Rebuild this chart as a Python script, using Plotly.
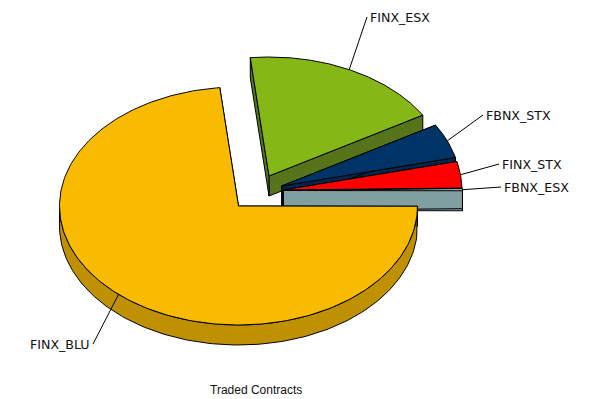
import numpy as np
import plotly.graph_objects as go

# Data
names = ["FINX_BLU", "FBNX_ESX", "FINX_STX", "FBNX_STX", "FINX_ESX"]
contracts = [73.3, 0.28, 3.6, 4.7, 18.12]
title_text = "Traded Contracts"

# Style
top_colors = ["#F9BB00", "#B2DCDC", "#FF0000", "#003366", "#85B716"]
side_colors = ["#BF9000", "#7F9FA0", "#8B0000", "#00264D", "#56751A"]
explode_x = [0, 45, 44.5, 43.2, 30.5]
explode_y = [0, -15.5, -16, -20, -30]
label_x = [90, 504, 502, 486, 370]
label_y = [344, 187, 164, 115, 17]
anchors = ["right", "left", "left", "left", "left"]
CX, CY, RX, RY, DEPTH = 238.5, 206, 179, 119, 20
START_DEG = 96.0

sweeps = 360 * np.array(contracts) / sum(contracts)
starts = START_DEG + np.concatenate([[0], np.cumsum(sweeps)[:-1]])

fig = go.Figure()


def poly(xs, ys, color):
    fig.add_trace(go.Scatter(
        x=xs, y=ys, mode="lines", fill="toself", fillcolor=color,
        line=dict(color="black", width=1), hoverinfo="skip", showlegend=False))


def draw_slice(i):
    ax, ay = CX + explode_x[i], CY + explode_y[i]
    t = np.radians(np.linspace(starts[i], starts[i] + sweeps[i], 240))
    ex, ey = ax + RX * np.cos(t), ay - RY * np.sin(t)
    # radial walls
    for k in (0, -1):
        poly([ax, ex[k], ex[k], ax, ax],
             [ay, ey[k], ey[k] + DEPTH, ay + DEPTH, ay], side_colors[i])
    # outer wall on the front half
    front = np.sin(t) < 0
    if front.any():
        fx, fy = ex[front], ey[front]
        poly(list(fx) + list(fx[::-1]) + [fx[0]],
             list(fy) + list((fy + DEPTH)[::-1]) + [fy[0]], side_colors[i])
    # top face
    poly([ax] + list(ex) + [ax], [ay] + list(ey) + [ay], top_colors[i])


for i in [4, 3, 2, 1, 0]:
    draw_slice(i)

# Leader lines and labels
for i, name in enumerate(names):
    mid = np.radians(starts[i] + sweeps[i] / 2)
    sx = CX + explode_x[i] + RX * np.cos(mid)
    sy = CY + explode_y[i] - RY * np.sin(mid)
    fig.add_trace(go.Scatter(
        x=[sx, label_x[i] + (3 if anchors[i] == "right" else -3)],
        y=[sy, label_y[i]], mode="lines",
        line=dict(color="black", width=1), hoverinfo="skip", showlegend=False))
    fig.add_annotation(x=label_x[i], y=label_y[i], text=name, showarrow=False,
                       xanchor=anchors[i], yanchor="middle",
                       xshift=(2 if anchors[i] == "right" else -2),
                       font=dict(family="DejaVu Sans", size=12.6, color="#111111"))

fig.add_annotation(x=256, y=390, text=title_text, showarrow=False,
                   xanchor="center", yanchor="middle",
                   font=dict(family="Liberation Sans", size=12, color="#111111"))

fig.update_layout(
    width=589, height=399, margin=dict(l=0, r=0, t=0, b=0),
    paper_bgcolor="white", plot_bgcolor="white",
    xaxis=dict(range=[0, 589], visible=False, fixedrange=True),
    yaxis=dict(range=[399, 0], visible=False, fixedrange=True),
)
fig.write_html("out.html", config={"displayModeBar": False},
               post_script="document.body.style.margin='0';document.documentElement.style.overflow='hidden';")
